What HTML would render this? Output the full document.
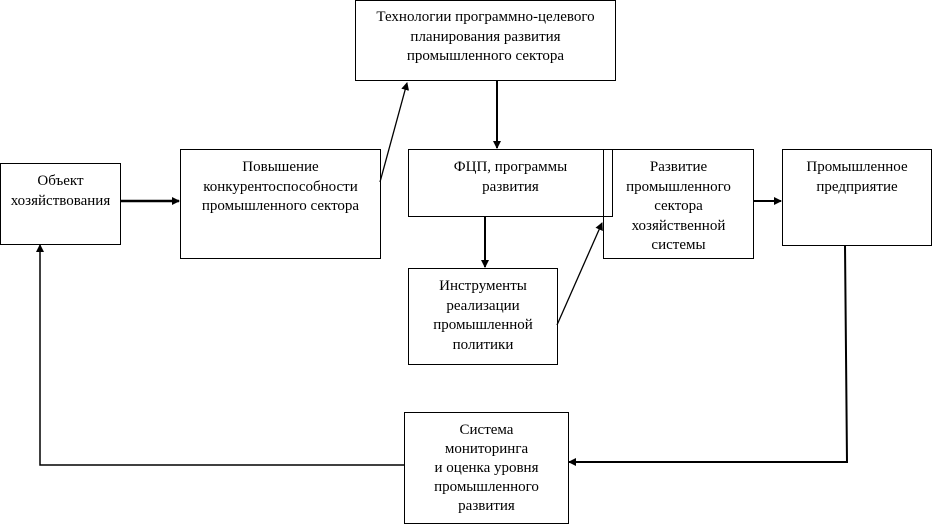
<!DOCTYPE html>
<html><head><meta charset="utf-8"><style>
body{margin:0;width:932px;height:524px;background:#fff;overflow:hidden;position:relative;font-family:"Liberation Serif",serif;}
.b{position:absolute;border:1.5px solid #000;box-sizing:border-box;text-align:center;font-size:15px;line-height:19.5px;padding-top:8px;color:#000}
svg{position:absolute;left:0;top:0}
</style></head><body>
<svg width="932" height="524">
<defs><marker id="a" markerWidth="8" markerHeight="8" refX="7" refY="4" orient="auto" markerUnits="userSpaceOnUse"><path d="M0,0 L8,4 L0,8z"/></marker></defs>
<g stroke="#000" fill="none">
<line x1="120" y1="201" x2="179" y2="201" stroke-width="2.5" marker-end="url(#a)"/>
<line x1="380" y1="182" x2="407" y2="83" stroke-width="1.3" marker-end="url(#a)"/>
<line x1="497" y1="80" x2="497" y2="148" stroke-width="2" marker-end="url(#a)"/>
<line x1="485" y1="216" x2="485" y2="267" stroke-width="2" marker-end="url(#a)"/>
<line x1="557" y1="325" x2="602" y2="223" stroke-width="1.3" marker-end="url(#a)"/>
<line x1="753" y1="201" x2="781" y2="201" stroke-width="2" marker-end="url(#a)"/>
<polyline points="845,245 847,462 569,462" stroke-width="2" marker-end="url(#a)"/>
<polyline points="404,465 40,465 40,245" stroke-width="1.5" marker-end="url(#a)"/>
</g></svg>
<div class="b" style="left:355px;top:0;width:261px;height:81px;padding-top:7px">Технологии программно-целевого<br>планирования развития<br>промышленного сектора</div>
<div class="b" style="left:0;top:163px;width:121px;height:82px">Объект<br>хозяйствования</div>
<div class="b" style="left:180px;top:149px;width:201px;height:110px">Повышение<br>конкурентоспособности<br>промышленного сектора</div>
<div class="b" style="left:408px;top:149px;width:205px;height:68px">ФЦП, программы<br>развития</div>
<div class="b" style="left:603px;top:149px;width:151px;height:110px">Развитие<br>промышленного<br>сектора<br>хозяйственной<br>системы</div>
<div class="b" style="left:782px;top:149px;width:150px;height:97px">Промышленное<br>предприятие</div>
<div class="b" style="left:408px;top:268px;width:150px;height:97px">Инструменты<br>реализации<br>промышленной<br>политики</div>
<div class="b" style="left:404px;top:412px;width:165px;height:112px;line-height:19px">Система<br>мониторинга<br>и оценка уровня<br>промышленного<br>развития</div>
</body></html>
